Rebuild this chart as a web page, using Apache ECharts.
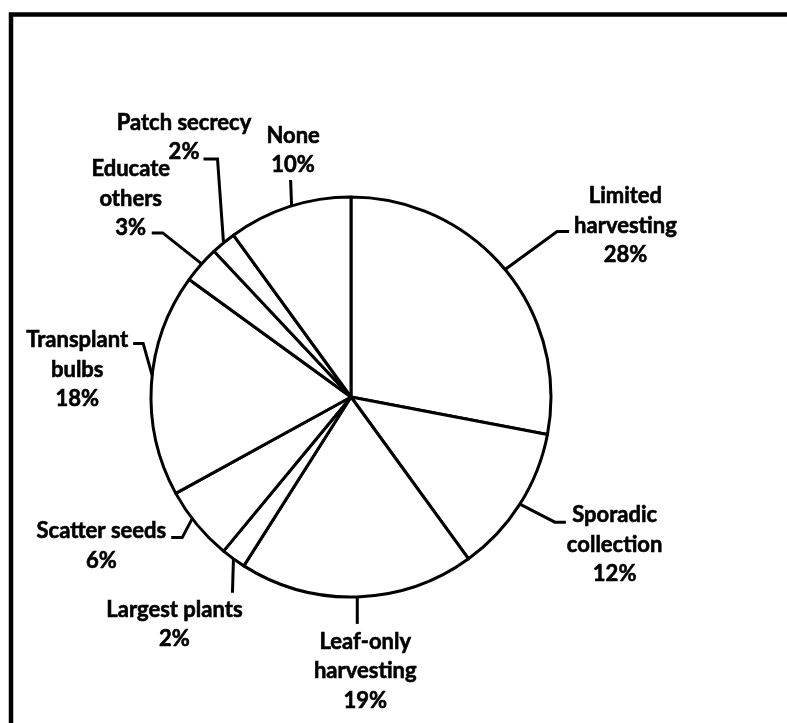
<!DOCTYPE html>
<html>
<head>
<meta charset="utf-8">
<script src="https://cdn.jsdelivr.net/npm/echarts@6/dist/echarts.min.js"></script>
<style>
  html, body { margin: 0; padding: 0; background: #ffffff; }
  #chart { width: 787px; height: 723px; }
</style>
</head>
<body>
<div id="chart"></div>
<script>
// Conservation practices reported (share of respondents, %)
const categories = [
  'Limited harvesting', 'Sporadic collection', 'Leaf-only harvesting',
  'Largest plants', 'Scatter seeds', 'Transplant bulbs',
  'Educate others', 'Patch secrecy', 'None'
];
// How each category name is broken over lines in its label
const labelText = [
  ['Limited', 'harvesting'], ['Sporadic', 'collection'], ['Leaf-only', 'harvesting'],
  ['Largest plants'], ['Scatter seeds'], ['Transplant', 'bulbs'],
  ['Educate', 'others'], ['Patch secrecy'], ['None']
];
const shares = [28, 12, 19, 2, 6, 18, 3, 2, 10];

// Pie geometry
const CENTER = [351, 397];
const RADIUS = 200;
const FONT = { family: 'Lato', size: 22, lineHeight: 29.5 };

// Leader-line style per slice: where along the slice's arc the line starts (0..1),
// the bend from the rim, the horizontal tail, and how the text block is anchored
// to the end of the tail.
const leaderStyle = [
  { at: 0.50, bend: [52, -38], tail: 12,  align: 'left',   vAlign: 'middle', dx: 5,    dy: -6 },
  { at: 0.50, bend: [35, 18],  tail: 11,  align: 'left',   vAlign: 'top',    dx: 1,    dy: -22 },
  { at: 0.50, bend: [0, 27],   tail: 0,   align: 'center', vAlign: 'top',    dx: 8,    dy: 3 },
  { at: 0.50, bend: [-1, 34],  tail: 0,   align: 'center', vAlign: 'top',    dx: -58,  dy: 2 },
  { at: 0.60, bend: [-10, 19], tail: -11, align: 'right',  vAlign: 'top',    dx: -5,   dy: -21 },
  { at: 0.54, bend: [-9, -32], tail: -10, align: 'right',  vAlign: 'top',    dx: -5,   dy: -18 },
  { at: 0.53, bend: [-39, -31],tail: -11, align: 'center', vAlign: 'bottom', dx: -21,  dy: 10 },
  { at: 0.50, bend: [-6, -84], tail: -14, align: 'center', vAlign: 'bottom', dx: -19.5,dy: 8 },
  { at: 0.52, bend: [-1, -26], tail: 0,   align: 'center', vAlign: 'bottom', dx: 2.5,  dy: 0 }
];

const total = shares.reduce((a, b) => a + b, 0);
const cumulative = [];
shares.reduce((acc, v, i) => { cumulative[i] = acc; return acc + v; }, 0);

// Point on the rim of slice i, a fraction `at` of the way through it (clockwise from 12 o'clock)
function rimPoint(i, at) {
  const ang = (cumulative[i] + shares[i] * at) / total * Math.PI * 2;
  return [CENTER[0] + RADIUS * Math.sin(ang), CENTER[1] - RADIUS * Math.cos(ang)];
}

const chart = echarts.init(document.getElementById('chart'), null, { renderer: 'canvas' });

const option = {
  animation: false,
  backgroundColor: '#ffffff',
  graphic: [{
    type: 'rect',
    silent: true,
    shape: { x: 11, y: 14.5, width: 820, height: 760 },
    style: { fill: 'none', stroke: '#000000', lineWidth: 4.5 }
  }],
  series: [{
    type: 'pie',
    center: CENTER,
    radius: RADIUS,
    startAngle: 90,
    clockwise: true,
    silent: true,
    avoidLabelOverlap: false,
    itemStyle: { color: '#ffffff', borderColor: '#000000', borderWidth: 3 },
    emphasis: { disabled: true },
    label: {
      show: true,
      position: 'outside',
      color: '#000000',
      formatter: p => labelText[p.dataIndex]
        .concat([shares[p.dataIndex] + '%'])
        .map(s => '{t|' + s + '}').join('\n'),
      rich: {
        t: {
          align: 'center',
          color: '#000000',
          fontFamily: FONT.family,
          fontWeight: 'bold',
          fontSize: FONT.size,
          lineHeight: FONT.lineHeight,
          textBorderColor: '#000000',
          textBorderWidth: 0.6
        }
      }
    },
    labelLine: {
      show: true,
      smooth: false,
      lineStyle: { color: '#000000', width: 3 }
    },
    labelLayout: params => {
      const i = params.dataIndex;
      const s = leaderStyle[i];
      const p0 = rimPoint(i, s.at);
      const p1 = [p0[0] + s.bend[0], p0[1] + s.bend[1]];
      const p2 = [p1[0] + s.tail, p1[1]];
      return {
        x: p2[0] + s.dx,
        y: p2[1] + s.dy,
        align: s.align,
        verticalAlign: s.vAlign,
        labelLinePoints: [p0, p1, p2]
      };
    },
    data: categories.map((name, i) => ({ name, value: shares[i] }))
  }]
};

chart.setOption(option);
</script>
</body>
</html>
